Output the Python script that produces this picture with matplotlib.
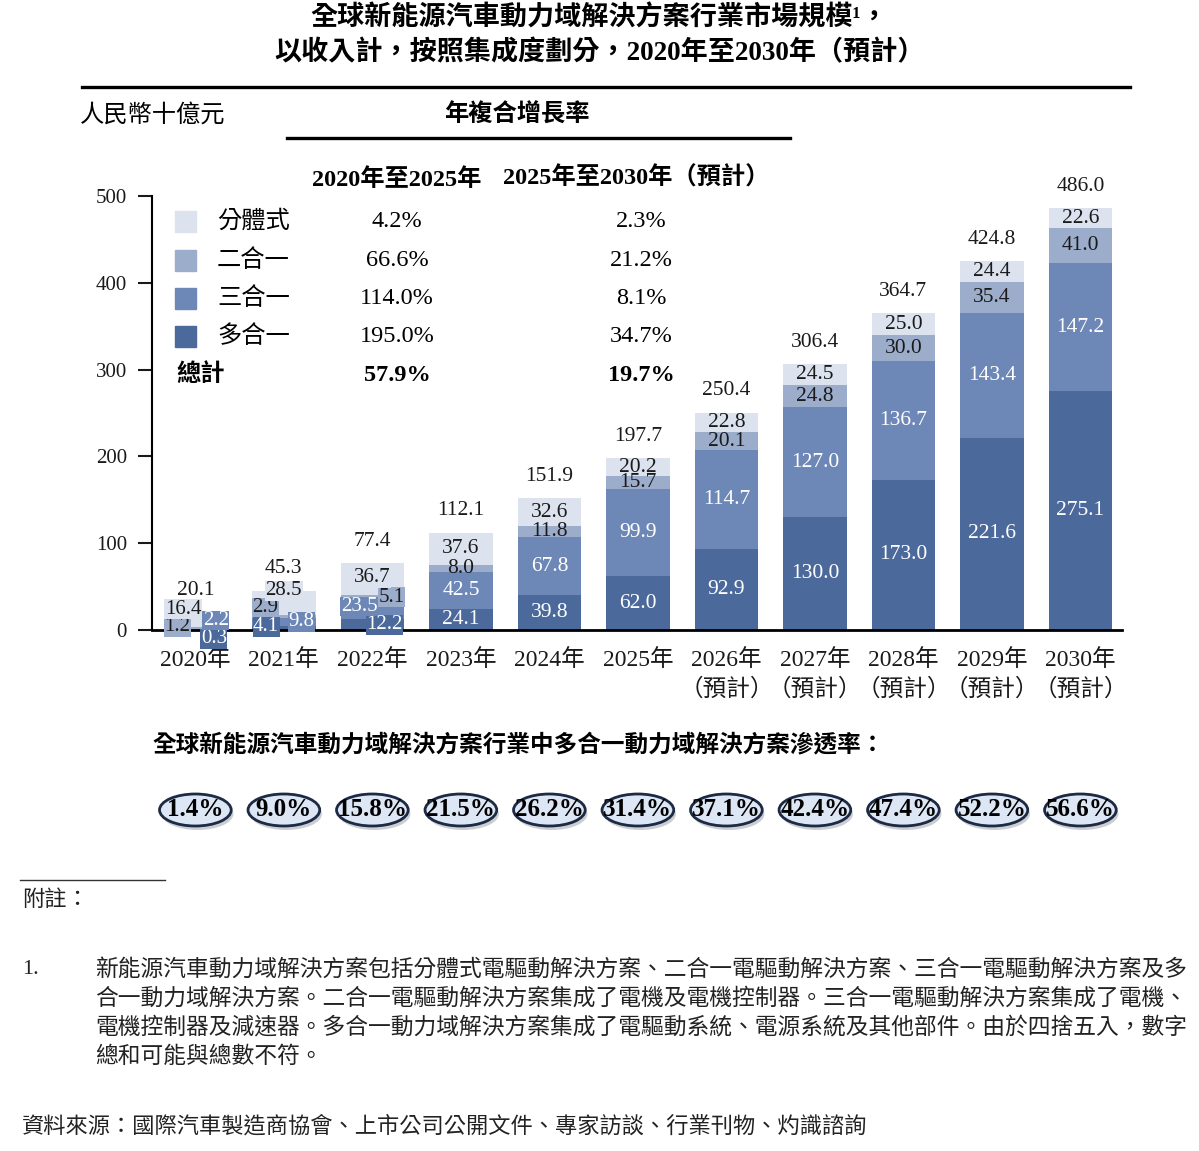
import matplotlib
matplotlib.use('Agg')
import matplotlib.pyplot as plt
import matplotlib.transforms as mtransforms
from matplotlib.patches import Ellipse, Rectangle
from matplotlib.lines import Line2D

plt.rcParams['font.family'] = ['Liberation Serif', 'Noto Sans CJK TC']
plt.rcParams['axes.unicode_minus'] = False

# ---- data ----
years = ['2020年', '2021年', '2022年', '2023年', '2024年', '2025年',
         '2026年\n（預計）', '2027年\n（預計）', '2028年\n（預計）',
         '2029年\n（預計）', '2030年\n（預計）']
multi = [0.3, 4.1, 12.2, 24.1, 39.8, 62.0, 92.9, 130.0, 173.0, 221.6, 275.1]
three = [1.2, 9.8, 23.5, 42.5, 67.8, 99.9, 114.7, 127.0, 136.7, 143.4, 147.2]
two = [2.2, 2.9, 5.1, 8.0, 11.8, 15.7, 20.1, 24.8, 30.0, 35.4, 41.0]
split = [16.4, 28.5, 36.7, 37.6, 32.6, 20.2, 22.8, 24.5, 25.0, 24.4, 22.6]
totals = [20.1, 45.3, 77.4, 112.1, 151.9, 197.7, 250.4, 306.4, 364.7, 424.8, 486.0]
penetration = ['1.4%', '9.0%', '15.8%', '21.5%', '26.2%', '31.4%',
               '37.1%', '42.4%', '47.4%', '52.2%', '56.6%']

series_names = ['分體式', '二合一', '三合一', '多合一']
cagr_20_25 = ['4.2%', '66.6%', '114.0%', '195.0%']
cagr_25_30 = ['2.3%', '21.2%', '8.1%', '34.7%']
total_cagr = ['57.9%', '19.7%']

colors = {'分體式': '#dce3ee', '二合一': '#9cadcc', '三合一': '#6d88b6', '多合一': '#4b6a9b'}
label_col = {'分體式': '#1a1a1a', '二合一': '#1a1a1a', '三合一': 'white', '多合一': 'white'}
dark = '#1a1a1a'

W, H = 1199, 1151
def fx(p):
    return p / W
def fy(p):
    return 1 - p / H

fig = plt.figure(figsize=(W / 100, H / 100), dpi=100)
ax = fig.add_axes([fx(152), fy(630), (1122 - 152) / W, (630 - 196) / H])

x = list(range(len(years)))
stack = [('多合一', multi), ('三合一', three), ('二合一', two), ('分體式', split)]
bottoms = [0.0] * len(x)
# the tiny segments of the first years: label at (dx, y, text colour, box colour)
early_pos = {
    (0, '分體式'): (-0.14, 24, dark, colors['分體式']),
    (0, '三合一'): (-0.20, 3.5, dark, colors['二合一']),
    (0, '二合一'): (0.23, 11, 'white', colors['三合一']),
    (0, '多合一'): (0.21, -10, 'white', colors['多合一']),
    (1, '二合一'): (-0.21, 26, dark, colors['二合一']),
    (1, '分體式'): (0.0, 45, dark, colors['分體式']),
    (1, '多合一'): (-0.20, 3.5, 'white', colors['多合一']),
    (1, '三合一'): (0.20, 9.5, 'white', colors['三合一']),
    (2, '分體式'): (0.0, 60, dark, colors['分體式']),
    (2, '三合一'): (-0.15, 27, 'white', colors['三合一']),
    (2, '二合一'): (0.22, 38, dark, colors['二合一']),
    (2, '多合一'): (0.14, 6, 'white', colors['多合一']),
}
for name, vals in stack:
    ax.bar(x, vals, bottom=bottoms, width=0.72, color=colors[name], zorder=2)
    for i, v in enumerate(vals):
        if (i, name) in early_pos:
            dx, yy, tc, bc = early_pos[(i, name)]
            ax.text(i + dx, yy, f'{v:.1f}', ha='center', va='center', fontsize=15,
                    color=tc, zorder=6,
                    bbox=dict(boxstyle='square,pad=0.02', fc=bc, ec='none'))
        else:
            ax.text(i, bottoms[i] + v / 2, f'{v:.1f}', ha='center', va='center',
                    fontsize=15.5, color=label_col[name], zorder=4)
    bottoms = [b + v for b, v in zip(bottoms, vals)]

for i, t in enumerate(totals):
    ax.text(i, bottoms[i] + 25, f'{t:.1f}', ha='center', va='center', fontsize=15.5,
            color=dark)

ax.set_xlim(-0.49, 10.47)
ax.set_ylim(0, 500)
ax.set_yticks([0, 100, 200, 300, 400, 500])
ax.set_xticks(x)
ax.set_xticklabels(years, fontsize=17, linespacing=1.4)
ax.tick_params(axis='x', length=0, pad=14, colors=dark)
ax.tick_params(axis='y', length=10, width=1.5, labelsize=15, pad=8, colors=dark)
for s in ['top', 'right']:
    ax.spines[s].set_visible(False)
ax.spines['left'].set_linewidth(1.5)
ax.spines['bottom'].set_linewidth(2)
ax.spines['bottom'].set_zorder(5)

# ---- titles ----
fig.text(0.5, fy(19), '全球新能源汽車動力域解決方案行業市場規模¹，', ha='center', va='center',
         fontsize=19.5, fontweight='bold')
fig.text(0.5, fy(53), '以收入計，按照集成度劃分，2020年至2030年（預計）', ha='center',
         va='center', fontsize=19.5, fontweight='bold')
fig.add_artist(Line2D([fx(82), fx(1130)], [fy(87), fy(87)], lw=2.4, color='black'))
fig.text(fx(80), fy(115), '人民幣十億元', ha='left', va='center', fontsize=17.5, style='italic')
fig.text(fx(517), fy(115), '年複合增長率', ha='center', va='center', fontsize=17.5,
         fontweight='bold')
fig.add_artist(Line2D([fx(287), fx(790)], [fy(138), fy(138)], lw=2.4, color='black'))

# ---- CAGR legend table ----
fig.text(fx(397), fy(180), '2020年至2025年', ha='center', va='center', fontsize=17.5,
         fontweight='bold')
fig.text(fx(636), fy(178), '2025年至2030年（預計）', ha='center', va='center', fontsize=17.5,
         fontweight='bold')
row_y = [222, 261, 299, 337]
for k, name in enumerate(series_names):
    fig.add_artist(Rectangle((fx(175), fy(row_y[k] + 10)), 21 / W, 21 / H,
                             transform=fig.transFigure, color=colors[name]))
    fig.text(fx(217), fy(row_y[k]), name, ha='left', va='center', fontsize=17.5)
    fig.text(fx(397), fy(row_y[k]), cagr_20_25[k], ha='center', va='center', fontsize=17.5)
    fig.text(fx(641), fy(row_y[k]), cagr_25_30[k], ha='center', va='center', fontsize=17.5)
fig.text(fx(176), fy(375), '總計', ha='left', va='center', fontsize=17.5, fontweight='bold')
fig.text(fx(397), fy(375), total_cagr[0], ha='center', va='center', fontsize=17.5,
         fontweight='bold')
fig.text(fx(641), fy(375), total_cagr[1], ha='center', va='center', fontsize=17.5,
         fontweight='bold')

# ---- penetration row ----
fig.text(fx(152), fy(746), '全球新能源汽車動力域解決方案行業中多合一動力域解決方案滲透率：',
         ha='left', va='center', fontsize=17, fontweight='bold', style='italic')
trans = mtransforms.blended_transform_factory(ax.transData, fig.transFigure)
yc = fy(810)
for i, p in enumerate(penetration):
    sh = Ellipse((i + 0.025, yc - 4 / H), 0.81, 32 / H, transform=trans,
                 facecolor='#8d939c', edgecolor='none', alpha=0.45, clip_on=False, zorder=1)
    ax.add_patch(sh)
    e = Ellipse((i, yc), 0.81, 32 / H, transform=trans, facecolor='#dde6f4',
                edgecolor='#1c2a44', lw=2, clip_on=False, zorder=2)
    ax.add_patch(e)
    ax.text(i, yc, p, transform=trans, ha='center', va='center', fontsize=18,
            fontweight='bold', color='black', zorder=3)

# ---- notes ----
fig.add_artist(Line2D([fx(20), fx(165)], [fy(880), fy(880)], lw=1, color='#333333'))
fig.text(fx(22), fy(901), '附註：', ha='left', va='center', fontsize=16, style='italic',
         color='#222222')
fig.text(fx(22), fy(970), '1.', ha='left', va='center', fontsize=16, color='#222222')
note_lines = [
    '新能源汽車動力域解決方案包括分體式電驅動解決方案、二合一電驅動解決方案、三合一電驅動解決方案及多',
    '合一動力域解決方案。二合一電驅動解決方案集成了電機及電機控制器。三合一電驅動解決方案集成了電機、',
    '電機控制器及減速器。多合一動力域解決方案集成了電驅動系統、電源系統及其他部件。由於四捨五入，數字',
    '總和可能與總數不符。',
]
for k, line in enumerate(note_lines):
    fig.text(fx(95), fy(970 + 29 * k), line, ha='left', va='center', fontsize=16.4,
             color='#222222')
fig.text(fx(22), fy(1127), '資料來源：國際汽車製造商協會、上市公司公開文件、專家訪談、行業刊物、灼識諮詢',
         ha='left', va='center', fontsize=16, style='italic', color='#222222')

plt.savefig('out.png', dpi=100)
